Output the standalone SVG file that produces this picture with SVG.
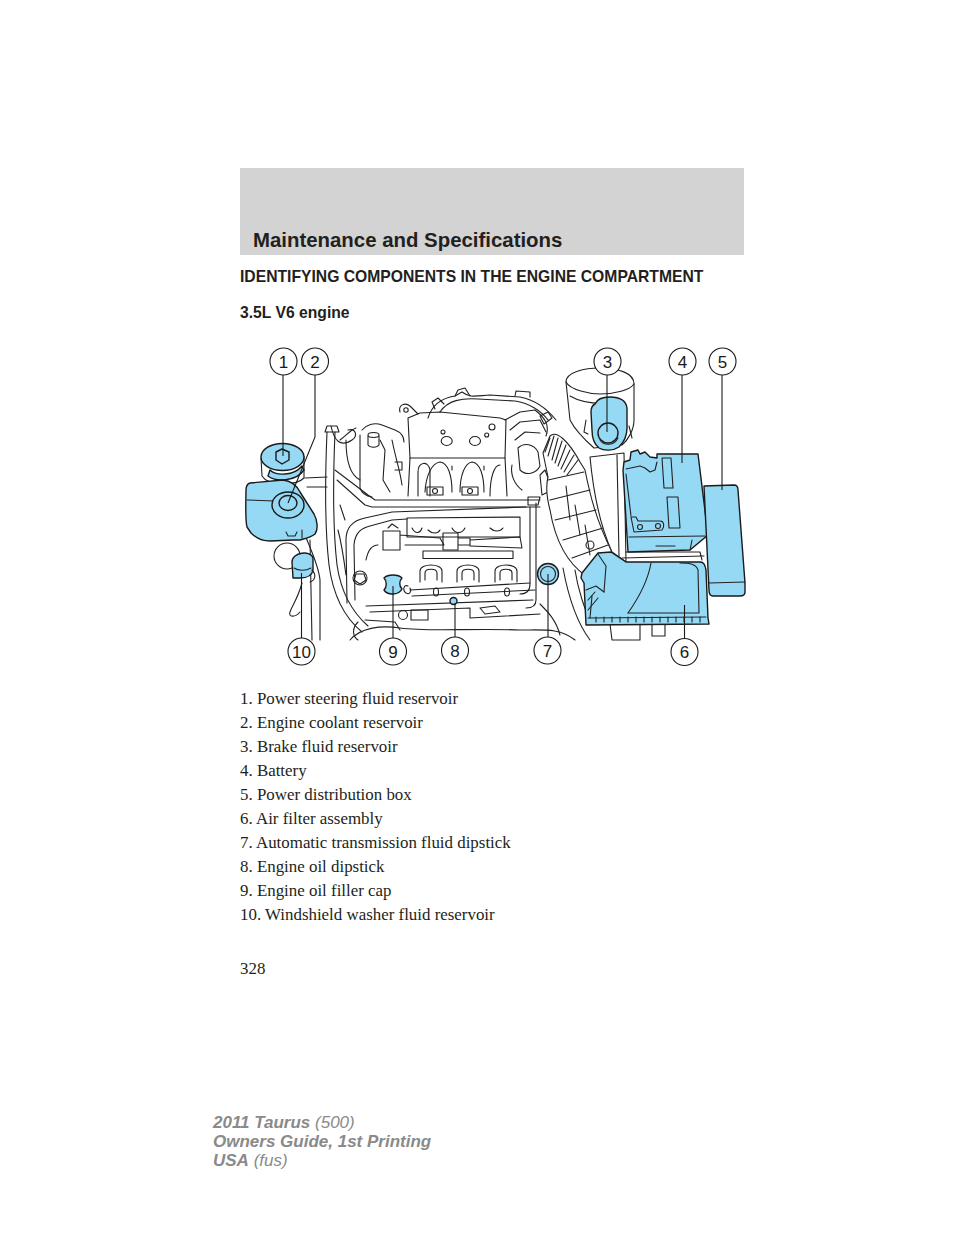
<svg xmlns="http://www.w3.org/2000/svg" width="954" height="1235" viewBox="0 0 954 1235">
<style>
.ln{fill:none;stroke:#222;stroke-width:1.1;stroke-linejoin:round;stroke-linecap:round}
.wf{fill:#fff;stroke:#222;stroke-width:1.1;stroke-linejoin:round}
.bl{fill:#96d9f4;stroke:#1a1a1a;stroke-width:1.4;stroke-linejoin:round}
.ld{fill:none;stroke:#1a1a1a;stroke-width:1.1}
.cc{fill:#fff;stroke:#1a1a1a;stroke-width:1.1}
.cn{font-family:"Liberation Sans",Arial,sans-serif;font-size:17px;fill:#1a1a1a;text-anchor:middle}
.hd{font-family:"Liberation Sans",Arial,sans-serif;font-weight:bold;fill:#231f20}
.li{font-family:"Liberation Serif","Times New Roman",serif;font-size:16.9px;fill:#231f20}
.ft{font-family:"Liberation Sans",Arial,sans-serif;font-size:17px;font-style:italic;fill:#8a8a8a}
</style>
<rect width="954" height="1235" fill="#fff"/>
<g id="header">
<rect x="240" y="168" width="504" height="87" fill="#d3d3d3"/>
<text class="hd" x="253" y="247" font-size="20.4">Maintenance and Specifications</text>
<text class="hd" x="240" y="282" font-size="15.7">IDENTIFYING COMPONENTS IN THE ENGINE COMPARTMENT</text>
<text class="hd" x="240" y="318" font-size="15.7">3.5L V6 engine</text>
</g>
<g id="engine">
<!-- left hoses -->
<path class="ln" d="M327,432 C325,480 325,530 329,565 C333,595 345,618 362,632"/>
<path class="ln" d="M335,432 C333,480 333,530 337,565 C341,592 352,612 368,626"/>
<path class="ln" d="M325,432 L327,426 L337,426 L339,432 Z"/>
<path class="ln" d="M331,426 C334,440 340,448 352,440 C358,436 356,428 348,430"/>
<path class="ln" d="M340,440 C346,436 350,430 356,428"/>
<path class="ln" d="M305,478 L327,477 M307,487 L327,487"/>
<path class="ln" d="M335,470 L368,495 L375,500 L540,500 M337,480 L365,505 L372,507 L540,507"/>
<path class="ln" d="M360,435 L360,488 C362,494 366,496 372,497"/>
<path class="ln" d="M368,436 L368,445 C370,448 377,448 379,445 L379,436"/>
<ellipse class="wf" cx="373.5" cy="435" rx="5.5" ry="2.5"/>
<path class="ln" d="M346,440 C346,460 350,475 360,480"/>
<path class="ln" d="M300,520 C305,540 318,560 320,580 L320,640"/>
<path class="ln" d="M310,540 L312,640"/>
<path class="ln" d="M302,583 C298,598 292,606 290,612 C288,617 295,618 300,612"/>
<path class="ln" d="M362,430 C366,425 374,422 382,425 L395,430 C400,432 404,436 404,442"/>
<path class="ln" d="M340,505 L345,520 M338,530 C342,545 344,560 346,575"/>
<!-- top manifold -->
<path class="ln" d="M400,412 C398,405 405,402 410,406 L418,414"/>
<circle class="ln" cx="406" cy="410" r="2.2"/>
<path class="ln" d="M408,418 L410,458 L505,458 L506,420 L500,418 L470,415 L440,412 L420,413 Z"/>
<path class="ln" d="M428,418 C432,405 442,398 455,396 L462,392 C470,398 475,396 490,395 L520,397 C535,400 548,410 556,420"/>
<path class="ln" d="M440,412 C448,400 462,398 478,399 L515,401 C530,403 542,412 548,420"/>
<path class="ln" d="M455,396 L458,390 L465,388 L470,396"/>
<path class="ln" d="M515,396 L516,391 L530,392 L530,397"/>
<path class="ln" d="M435,409 L432,402 L438,398 L444,404"/>
<ellipse class="ln" cx="446.7" cy="441" rx="5.5" ry="4.5"/>
<ellipse class="ln" cx="475" cy="441" rx="5.5" ry="4.5"/>
<circle class="ln" cx="443" cy="432" r="2"/>
<circle class="ln" cx="486.7" cy="435" r="2"/>
<circle class="ln" cx="492" cy="427" r="3"/>
<path class="ln" d="M410,458 L408,496 M505,458 L507,496"/>
<path class="ln" d="M418,496 L418,472 C418,462 428,460 430,470 L430,496"/>
<path class="ln" d="M425,492 C426,475 432,463 440,462 C448,463 452,475 452,492"/>
<path class="ln" d="M460,492 C460,475 465,463 472,462 C480,463 484,475 484,492"/>
<path class="ln" d="M490,496 C490,478 494,465 500,465"/>
<path class="ln" d="M452,466 L452,470 M484,466 L484,470"/>
<rect class="ln" x="427" y="487" width="16" height="8"/>
<circle class="ln" cx="435" cy="491" r="2.5"/>
<rect class="ln" x="462" y="487" width="16" height="8"/>
<circle class="ln" cx="470" cy="491" r="2.5"/>
<path class="ln" d="M395,462 L402,462 L402,470 L395,470"/>
<path class="ln" d="M380,440 L385,450 L383,480 L390,492 M392,440 C396,460 400,470 402,485"/>
<!-- right side intake / throttle body -->
<path class="ln" d="M505,420 L520,412 L535,410 C545,418 550,425 546,436"/>
<path class="ln" d="M510,430 L520,422 L540,420 L546,432 M515,440 L525,432 L540,433"/>
<path class="ln" d="M518,448 C524,442 534,444 538,452 L540,466 C536,474 526,476 520,470 Z"/>
<path class="ln" d="M512,465 C510,475 515,485 522,490"/>
<path class="ln" d="M540,416 L548,412 L552,418 L544,424 Z"/>
<path class="ln" d="M540,475 L545,470 L548,478 L548,492 L542,495 Z"/>
<path class="ln" d="M528,497 L528,505 L538,505 L540,497 Z"/>
<path class="ln" d="M530,507 L530,584 C530,592 526,594 520,594 M536,503 L536,600 C536,606 532,608 526,608"/>
<!-- intake tube -->
<path class="wf" d="M550,436 C556,430 568,440 580,462 L585,470 C590,495 596,520 612,552 L598,562 L586,576 C570,565 556,545 550,510 C546,495 546,485 548,477 L543,453 Z"/>
<path class="ln" d="M550,438 L545,452 M554,436 L548,456 M558,438 L552,460 M562,441 L555,463 M566,445 L558,466 M570,450 L561,469 M574,455 L564,472 M578,460 L567,475"/>
<path class="ln" d="M548,480 L584,472 M550,500 L590,490 M555,520 L596,510 M563,540 L603,528 M572,558 L608,545"/>
<path class="ln" d="M566,486 L570,520 M575,505 L580,535 M585,525 L590,555"/>
<circle class="ln" cx="590" cy="545" r="4"/>
<!-- tall box under brake reservoir -->
<path class="wf" d="M590,457 L624,453 L626,562 L612,552 C602,530 594,500 590,457 Z"/>
<path class="ln" d="M617,455 L619,556"/>
<!-- master cylinder booster -->
<path class="wf" d="M566,382 C566,372 585,368 600,368 C618,368 634,373 634,384 L634,420 C634,430 628,440 622,445 L594,448 C585,440 575,430 570,420 Z"/>
<path class="ln" d="M566,382 C570,390 590,394 600,394 C615,394 630,390 634,384"/>
<path class="ln" d="M570,396 C580,402 595,404 610,403"/>
<path class="ln" d="M586,420 L584,432 L588,434 M629,426 L632,438"/>
<!-- valve cover -->
<path class="ln" d="M347,603 L346,540 C346,525 355,520 365,518 L392,512 L526,507"/>
<path class="ln" d="M355,600 L354,545 C355,532 362,528 370,526 L392,520 L407,519"/>
<path class="ln" d="M407,518 L520,517 L520,537 L407,537 Z"/>
<path class="ln" d="M412,528 C415,534 420,534 422,528 M428,530 C432,534 438,534 440,530 M452,528 C455,534 462,534 465,528 M490,528 C494,532 500,532 503,528"/>
<path class="ln" d="M383,531 L400,531 L400,550 L383,550 Z M400,535 L440,538 L444,545 L405,545"/>
<path class="ln" d="M443,533 L458,533 L458,550 L443,550 Z M458,538 L470,538 L470,545 L458,545 M470,540 L520,537 L522,548 L470,546"/>
<path class="ln" d="M388,528 L392,524 L398,528"/>
<rect class="ln" x="423" y="551" width="90" height="7.5"/>
<path class="ln" d="M420,582 L420,571 C420,563 442,563 442,571 L442,582 M425,580 L425,573 C425,568 437,568 437,573 L437,580"/>
<path class="ln" d="M457,582 L457,571 C457,563 479,563 479,571 L479,582 M462,580 L462,573 C462,568 474,568 474,573 L474,580"/>
<path class="ln" d="M495,582 L495,571 C495,563 517,563 517,571 L517,582 M500,580 L500,573 C500,568 512,568 512,573 L512,580"/>
<path class="ln" d="M410,590 L530,583 M412,596 L535,590"/>
<path class="ln" d="M408,586 C404,584 402,590 406,593 C409,595 412,592 410,588"/>
<ellipse class="ln" cx="436" cy="592" rx="2.5" ry="4"/>
<ellipse class="ln" cx="467" cy="592" rx="2.5" ry="4"/>
<ellipse class="ln" cx="507" cy="592" rx="2.5" ry="4"/>
<circle class="ln" cx="360" cy="578" r="7"/>
<path class="ln" d="M356,574 L364,574 L366,580 L360,584 L354,580 Z"/>
<path class="ln" d="M366,560 C368,550 372,545 378,545"/>
<path class="ln" d="M366,606 L533,600 M370,612 L470,608 L470,618 L540,614"/>
<path class="ln" d="M365,620 L395,622 L400,630"/>
<rect class="ln" x="411" y="610" width="17" height="10"/>
<circle class="ln" cx="403" cy="615" r="4.5"/>
<path class="ln" d="M480,608 L495,606 L500,612 L485,614 Z"/>
<path class="ln" d="M350,640 C360,628 380,625 400,628 C430,632 470,628 520,630 C545,630 560,628 575,640"/>
<path class="ln" d="M358,622 C352,628 352,636 358,640"/>
<path class="ln" d="M540,604 C548,612 556,620 560,635"/>
<!-- lines near air filter / lower right -->
<path class="ln" d="M563,568 C568,595 575,620 590,640"/>
<path class="ln" d="M575,570 C578,590 585,610 590,620"/>
<path class="ln" d="M610,624 L612,640 L640,640 L640,625"/>
<path class="ln" d="M652,625 L652,636 L665,636 L665,625"/>
<path class="ln" d="M626,552 L700,552 L702,560 M622,558 L704,556"/>
</g>
<g id="node-1">
<path class="wf" d="M261,458 L262,476 C268,486 296,486 304,478 L304,456"/>
<ellipse class="bl" cx="282.5" cy="457" rx="21.5" ry="13.5"/>
<path class="bl" d="M276,452 L282,449 L289,452 L289,460 L282,464 L276,460 Z"/>
<path class="bl" d="M270,470 C276,476 294,476 302,466 L304,470 C296,482 275,482 268,476 Z"/>
</g>
<g id="node-2">
<path class="bl" d="M250,483 L283,480 C292,481 297,486 300,492 L314,514 C318,521 318,530 315,534 C310,538 303,539 300,540 L293,540 L270,541 C262,541 256,538 251,533 L247,527 C245,520 246,495 246,490 C246,486 247,484 250,483 Z"/>
<path class="ln" d="M247,500 L275,501 C280,501 282,502 283,503"/>
<ellipse class="bl" cx="288" cy="505" rx="16" ry="13"/>
<ellipse class="bl" cx="288" cy="503" rx="9" ry="7.5"/>
<path class="ln" d="M286,532 L288,536 L295,536 L297,532"/>
<path class="ln" d="M302,530 L302,538"/>
</g>
<g id="node-10">
<circle class="wf" cx="287" cy="556" r="13"/>
<path class="bl" d="M293,578 L292,562 C292,552 311,550 313,558 L313,570 C312,576 306,578 300,578 Z"/>
<path class="ln" d="M294,568 C298,571 306,571 311,568"/>
<path class="ln" d="M312,570 C316,574 316,580 310,582"/>
</g>
<g id="node-3">
<path class="bl" d="M595,404 C597,399 603,397 610,397 C620,397 626,401 627,408 L627,428 C627,437 624,442 619,447 C613,451 604,451 599,448 C594,444 592,438 592,430 L591,412 C591,408 593,405 595,404 Z"/>
<circle class="bl" cx="608" cy="433" r="10"/>
<path class="ln" d="M600,440 C604,446 614,446 618,438"/>
</g>
<g id="node-4">
<path class="bl" d="M623,470 L624,462 L630,460 L631,452 L638,450 L640,454 L645,452 L650,457 L657,458 L657,454 L698,454 L708,535 L690,550 L628,552 Z"/>
<path class="ln" d="M626,469 L640,466 L645,468 L650,472 L655,470 L657,462"/>
<path class="ln" d="M629,537 L705,536 M690,550 L692,540"/>
<path class="ln" d="M656,546 L675,546"/>
<path class="ln" d="M662,458 L671,458 L673,488 L664,488 Z"/>
<path class="ln" d="M667,497 L678,497 L680,528 L669,528 Z"/>
<path class="ln" d="M631,517 L636,517 L638,521 L660,521 C664,521 665,526 662,530 L634,532 Z"/>
<circle class="ln" cx="640" cy="527" r="2.5"/>
<circle class="ln" cx="658" cy="526" r="2.5"/>
<path class="ln" d="M626,474 L631,516"/>
</g>
<g id="node-5">
<path class="bl" d="M704,486 L734,485 C737,485 738,487 738,490 L745,583 L745,592 C745,595 743,596 740,596 L713,596 C710,596 709,594 709,590 Z"/>
<path class="ln" d="M709,583 L745,582"/>
</g>
<g id="node-6">
<path class="bl" d="M581,578 L582,573 L598,553 L611,552 L623,560 L626,562 L700,562 C704,562 705,565 706,570 L708,618 L709,624 L586,625 L584,583 Z"/>
<path class="ln" d="M586,590 L596,586 L604,592"/>
<path class="ln" d="M598,554 L606,566 L604,592 M592,596 L590,618"/>
<path class="ln" d="M651,563 C648,580 640,596 628,613"/>
<path class="ln" d="M628,613 L699,613 L698,570 C696,564 690,563 680,563"/>
<path class="ln" d="M588,618 L706,617"/>
<path class="ln" d="M596,617 L596,622 M604,617 L604,622 M612,617 L612,622 M620,617 L620,622 M628,617 L628,622 M636,617 L636,622 M644,617 L644,622 M652,617 L652,622 M660,617 L660,622 M668,617 L668,622 M676,617 L676,622 M684,617 L684,622 M692,617 L692,622 M700,617 L700,622"/>
<path class="ln" d="M588,600 L595,592 M588,610 L598,598"/>
</g>
<g id="node-9">
<path class="bl" d="M384,578 C388,574 398,574 402,578 C399,581 399,586 402,589 C399,595 388,596 384,590 C387,587 387,581 384,578 Z"/>
</g>
<g id="node-8">
<circle class="bl" cx="453.5" cy="601" r="3.5"/>
</g>
<g id="node-7">
<circle class="bl" cx="548" cy="574" r="10.5"/>
<circle class="ln" cx="548" cy="574" r="7.5"/>
</g>
<g id="connectors">
<path class="ld" d="M283,375 L283,456"/>
<path class="ld" d="M315,375 L315,437 L288,503"/>
<path class="ld" d="M607,375 L607,432"/>
<path class="ld" d="M682,375 L682,463"/>
<path class="ld" d="M722,375 L722,490"/>
<path class="ld" d="M684.5,638 L684.5,605"/>
<path class="ld" d="M548,637 L548,574"/>
<path class="ld" d="M455,637 L455,603"/>
<path class="ld" d="M393,638 L393,586"/>
<path class="ld" d="M301.5,638 L301.5,573"/>
</g>
<g id="callouts">
<circle class="cc" cx="283.5" cy="361.5" r="13.5"/><text class="cn" x="283.5" y="367.5">1</text>
<circle class="cc" cx="315" cy="361.5" r="13.5"/><text class="cn" x="315" y="367.5">2</text>
<circle class="cc" cx="607.5" cy="361.5" r="13.5"/><text class="cn" x="607.5" y="367.5">3</text>
<circle class="cc" cx="682.5" cy="361.5" r="13.5"/><text class="cn" x="682.5" y="367.5">4</text>
<circle class="cc" cx="722.5" cy="361.5" r="13.5"/><text class="cn" x="722.5" y="367.5">5</text>
<circle class="cc" cx="684.5" cy="652" r="13.5"/><text class="cn" x="684.5" y="658">6</text>
<circle class="cc" cx="547.5" cy="650.5" r="13.5"/><text class="cn" x="547.5" y="656.5">7</text>
<circle class="cc" cx="455" cy="650.5" r="13.5"/><text class="cn" x="455" y="656.5">8</text>
<circle class="cc" cx="393" cy="651.5" r="13.5"/><text class="cn" x="393" y="657.5">9</text>
<circle class="cc" cx="301.5" cy="651.5" r="13.5"/><text class="cn" x="301.5" y="657.5">10</text>
</g>
<g id="legend">
<text class="li" x="240" y="704">1. Power steering fluid reservoir</text>
<text class="li" x="240" y="728">2. Engine coolant reservoir</text>
<text class="li" x="240" y="752">3. Brake fluid reservoir</text>
<text class="li" x="240" y="776">4. Battery</text>
<text class="li" x="240" y="800">5. Power distribution box</text>
<text class="li" x="240" y="824">6. Air filter assembly</text>
<text class="li" x="240" y="848">7. Automatic transmission fluid dipstick</text>
<text class="li" x="240" y="872">8. Engine oil dipstick</text>
<text class="li" x="240" y="896">9. Engine oil filler cap</text>
<text class="li" x="240" y="920">10. Windshield washer fluid reservoir</text>
<text class="li" x="240" y="974">328</text>
</g>
<g id="footer">
<text class="ft" x="213" y="1128"><tspan font-weight="bold">2011 Taurus</tspan> (500)</text>
<text class="ft" x="213" y="1147" font-weight="bold">Owners Guide, 1st Printing</text>
<text class="ft" x="213" y="1166"><tspan font-weight="bold">USA</tspan> (fus)</text>
</g>
</svg>
